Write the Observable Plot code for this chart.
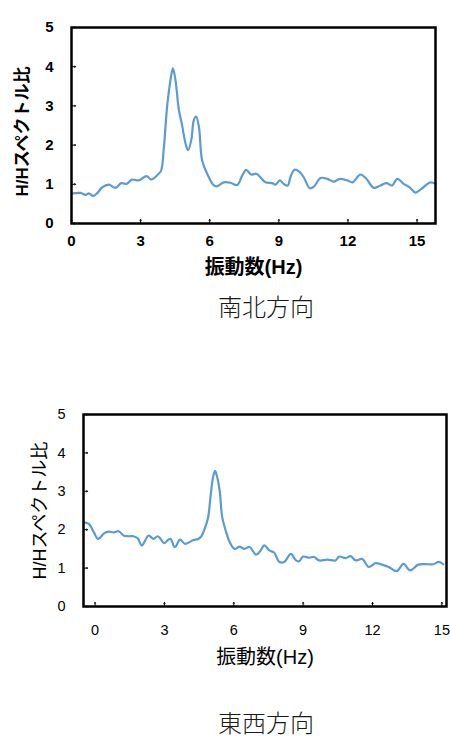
<!DOCTYPE html>
<html>
<head>
<meta charset="utf-8">
<script src="https://cdn.jsdelivr.net/npm/d3@7"></script>
<script src="https://cdn.jsdelivr.net/npm/@observablehq/plot@0.6"></script>
<style>
  html, body { margin: 0; padding: 0; background: #fff; }
  #wrap { position: relative; width: 450px; height: 742px; overflow: hidden; }
  .chart { position: absolute; left: 0; }
  .caption {
    position: absolute; transform: translate(-50%, -50%);
    font-family: "Noto Sans CJK JP", sans-serif; font-weight: 300;
    font-size: 24px; line-height: 1; color: #1a1a1a; white-space: nowrap;
  }
</style>
</head>
<body>
<div id="wrap"></div>
<script>
// 南北方向 (north-south) H/H spectral ratio
const nsFreq = [0.07,0.39,0.61,0.75,0.94,1.11,1.33,1.62,1.91,2.16,2.39,2.63,2.92,3.26,3.46,3.75,3.89,4.0,4.15,4.30,4.40,4.51,4.66,4.8,4.95,5.06,5.2,5.31,5.41,5.53,5.67,5.89,6.18,6.32,6.61,6.9,7.19,7.41,7.58,7.8,8.02,8.2,8.42,8.71,8.85,9.04,9.21,9.39,9.5,9.68,9.87,10.08,10.34,10.52,10.81,11.1,11.38,11.65,11.97,12.2,12.54,12.8,13.12,13.41,13.67,13.92,14.14,14.42,14.68,14.93,15.18,15.58,15.8];
const nsRatio = [0.77,0.78,0.73,0.77,0.70,0.77,0.92,0.99,0.91,1.03,1.01,1.12,1.10,1.21,1.12,1.25,1.35,1.87,2.98,3.67,3.96,3.67,2.90,2.51,2.04,1.87,2.13,2.64,2.73,2.47,1.61,1.27,0.97,0.95,1.05,1.04,0.98,1.22,1.37,1.25,1.27,1.18,1.05,1.03,0.99,1.10,1.01,0.97,1.18,1.37,1.33,1.18,0.90,0.94,1.16,1.14,1.07,1.14,1.10,1.05,1.25,1.14,0.91,0.97,1.03,0.97,1.14,1.01,0.92,0.79,0.88,1.05,1.01];

// 東西方向 (east-west) H/H spectral ratio
const ewFreq = [-0.48,-0.27,-0.05,0.12,0.23,0.40,0.59,0.80,1.02,1.23,1.45,1.66,1.84,2.02,2.17,2.31,2.53,2.70,2.81,2.98,3.17,3.27,3.43,3.50,3.67,3.89,4.1,4.25,4.46,4.6,4.74,4.89,4.99,5.1,5.19,5.27,5.39,5.5,5.65,5.82,6.03,6.25,6.46,6.68,6.96,7.13,7.32,7.54,7.75,7.97,8.18,8.47,8.69,8.83,9.0,9.26,9.47,9.69,10.04,10.4,10.55,10.83,11.05,11.27,11.55,11.84,12.13,12.41,12.7,13.05,13.34,13.63,13.98,14.41,14.63,14.87,15.06];
const ewRatio = [2.19,2.15,1.93,1.76,1.80,1.91,1.95,1.93,1.96,1.85,1.83,1.83,1.78,1.59,1.72,1.85,1.76,1.83,1.78,1.65,1.74,1.76,1.55,1.57,1.74,1.63,1.68,1.73,1.76,1.83,2.02,2.32,2.84,3.36,3.53,3.40,3.01,2.32,1.98,1.68,1.50,1.56,1.50,1.55,1.35,1.43,1.59,1.46,1.40,1.16,1.16,1.37,1.20,1.18,1.30,1.27,1.29,1.20,1.22,1.20,1.30,1.26,1.31,1.20,1.24,1.03,1.13,1.09,1.03,0.92,1.11,0.94,1.09,1.10,1.10,1.16,1.10];

const xTicks = [0, 3, 6, 9, 12, 15];
const yTicks = [0, 1, 2, 3, 4, 5];
const xLabel = "振動数(Hz)";
const yLabel = "H/Hスペクトル比";
const captions = ["南北方向", "東西方向"];

const lineColor = "#5b9bd5";
const fontStack = "'Liberation Sans', Arial, 'Noto Sans CJK JP', sans-serif";

function makeChart(freq, ratio, o) {
  const data = freq.map((f, i) => ({f, r: ratio[i]}));
  return Plot.plot({
    width: 450, height: 290,
    marginTop: o.mt, marginBottom: o.mb, marginLeft: o.ml, marginRight: o.mr,
    x: {domain: o.xDomain},
    y: {domain: [0, 5]},
    style: {fontFamily: fontStack, color: "#000", background: "transparent", overflow: "visible"},
    marks: [
      Plot.axisX(xTicks, {tickSize: 0, tickPadding: o.xPad, fontSize: o.tickFont, fontWeight: o.weight, label: null}),
      Plot.axisY(yTicks, {tickSize: 0, tickPadding: o.yPad, fontSize: o.tickFont, fontWeight: o.weight, label: null}),
      Plot.vector(xTicks, {x: d => d, y: 0, length: 4, rotate: 0, anchor: "start", stroke: "#000", strokeWidth: 1}),
      Plot.vector(yTicks, {x: o.xDomain[0], y: d => d, length: 4, rotate: 90, anchor: "start", stroke: "#000", strokeWidth: 1}),
      Plot.line(data, {x: "f", y: "r", stroke: lineColor, strokeWidth: 2.2, curve: "catmull-rom"}),
      Plot.frame({stroke: "#000", strokeWidth: 2.5}),
      Plot.text([xLabel], {frameAnchor: "bottom", dy: o.xLabDy, fontSize: o.labFont, fontWeight: o.weight, fill: "#000", lineAnchor: "middle"}),
      Plot.text([yLabel], {frameAnchor: "left", dx: o.yLabDx, dy: o.yLabDy, rotate: -90, textAnchor: "middle", fontSize: o.yLabFont, fontWeight: o.weight, fill: "#000", lineAnchor: "middle"})
    ]
  });
}

const wrap = document.getElementById("wrap");

const c1 = makeChart(nsFreq, nsRatio, {
  mt: 27, mb: 67, ml: 71, mr: 15, xDomain: [0, 15.8],
  xPad: 12, yPad: 18, tickFont: 15, weight: "bold",
  xLabDy: 44, labFont: 20, yLabDx: -49, yLabDy: 6, yLabFont: 17
});
c1.classList.add("chart"); c1.style.top = "0px";
wrap.appendChild(c1);

const c2 = makeChart(ewFreq, ewRatio, {
  mt: 24, mb: 74, ml: 83, mr: 4, xDomain: [-0.5, 15.2],
  xPad: 18, yPad: 18, tickFont: 14.5, weight: "normal",
  xLabDy: 51, labFont: 20, yLabDx: -43, yLabDy: 0, yLabFont: 18
});
c2.classList.add("chart"); c2.style.top = "390px";
wrap.appendChild(c2);

[[captions[0], 306], [captions[1], 722]].forEach(([t, y]) => {
  const d = document.createElement("div");
  d.className = "caption";
  d.textContent = t;
  d.style.left = "266px";
  d.style.top = y + "px";
  wrap.appendChild(d);
});
</script>
</body>
</html>
